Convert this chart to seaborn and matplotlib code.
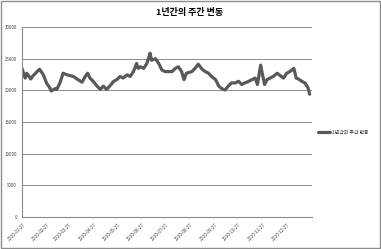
import matplotlib
matplotlib.use("Agg")
import matplotlib.pyplot as plt
import matplotlib.dates as mdates
import seaborn as sns
import pandas as pd
import numpy as np

sns.set_style("white")
plt.rcParams['font.family'] = ['Noto Sans CJK KR', 'DejaVu Sans']

title = "1년간의 주간 변동"
series_name = "1년간의 주간 변동"
start_date = "2010-01-26"
day_offsets = [0, 2, 4, 6, 9, 11, 14, 18, 22, 23,
               27, 31, 35, 37, 42, 44, 48, 52, 57, 65,
               71, 76, 80, 83, 86, 90, 95, 99, 103, 107,
               111, 116, 120, 124, 128, 133, 137, 141, 145, 147,
               150, 154, 158, 160, 162, 164, 169, 173, 177, 181,
               185, 190, 194, 198, 202, 205, 208, 215, 219, 223,
               228, 232, 236, 240, 245, 249, 253, 257, 261, 265,
               270, 274, 278, 282, 287, 291, 295, 298, 302, 304,
               307, 310, 314, 318, 323, 327, 331, 335, 339, 344,
               347, 350, 354, 358, 362, 364]
values = [23470, 22700, 21940, 22700, 22190, 21790, 22300, 22810, 23320, 23210,
          22450, 21170, 20410, 19900, 20260, 20150, 21170, 22700, 22450, 22190,
          21680, 21280, 22190, 22700, 21940, 21430, 20660, 20150, 20660, 20150,
          20660, 21430, 21680, 22190, 21940, 22450, 22190, 22960, 24240, 23470,
          23720, 23470, 24240, 25000, 25870, 24750, 25000, 24240, 23210, 22960,
          22960, 22960, 23470, 23720, 22960, 21680, 22700, 22960, 23470, 24130,
          23320, 22960, 22700, 22190, 21680, 20660, 20260, 20050, 20660, 21170,
          21170, 21430, 20920, 21170, 21430, 21680, 21940, 20920, 23980, 22700,
          20920, 21680, 21940, 22190, 22700, 22300, 21940, 22700, 22960, 23470,
          21940, 21790, 21430, 21170, 20410, 19390]
tick_dates = ["2010-01-27", "2010-02-27", "2010-03-27", "2010-04-27",
              "2010-05-27", "2010-06-27", "2010-07-27", "2010-08-27",
              "2010-09-27", "2010-10-27", "2010-11-27", "2010-12-27"]
y_ticks = [0, 5000, 10000, 15000, 20000, 25000, 30000]

dates = pd.Timestamp(start_date) + pd.to_timedelta(day_offsets, unit="D")
df = pd.DataFrame({"date": dates, "value": values, "series": series_name})

fig = plt.figure(figsize=(3.81, 2.49), dpi=100)
ax = fig.add_axes([22/381, 1-217/249, (312-22)/381, (217-27)/249])

sns.lineplot(data=df, x="date", y="value", hue="series", palette=["#595959"],
             linewidth=2.3, ax=ax, legend=True)

ax.set_xlim(pd.Timestamp(start_date), pd.Timestamp(start_date) + pd.Timedelta(days=367))
ax.set_ylim(0, 30000)
ax.set_yticks(y_ticks)
ax.set_yticklabels([str(v) for v in y_ticks])
tpos = [pd.Timestamp(t) for t in tick_dates]
ax.set_xticks(tpos)
ax.set_xticklabels(tick_dates, rotation=45, ha="right", rotation_mode="anchor")
ax.tick_params(axis="both", labelsize=3.2, colors="#444444", length=2, width=0.6,
               direction="out", pad=1.5)
ax.tick_params(axis="x", labelcolor="#444444")
ax.set_xlabel("")
ax.set_ylabel("")
ax.grid(axis="y", color="#8c8c8c", linewidth=0.7)
ax.grid(axis="x", visible=False)
for s in ["top", "right"]:
    ax.spines[s].set_visible(False)
for s in ["left", "bottom"]:
    ax.spines[s].set_color("#8c8c8c")
    ax.spines[s].set_linewidth(0.8)

handles, labels = ax.get_legend_handles_labels()
ax.get_legend().remove()
fig.legend(handles, labels, loc="center left", bbox_to_anchor=(316/381, 1-132/249),
           frameon=False, fontsize=3.5, handlelength=2.5, handletextpad=0.3,
           borderaxespad=0)

fig.text(190/381, 1-13/249, title, ha="center", va="center", fontsize=6.5,
         fontweight="bold", color="#000000")

border = plt.Rectangle((0.002, 0.003), 0.995, 0.993, transform=fig.transFigure,
                       fill=False, edgecolor="#8c8c8c", linewidth=1.0)
fig.patches.append(border)

fig.savefig("out.png", dpi=100)
